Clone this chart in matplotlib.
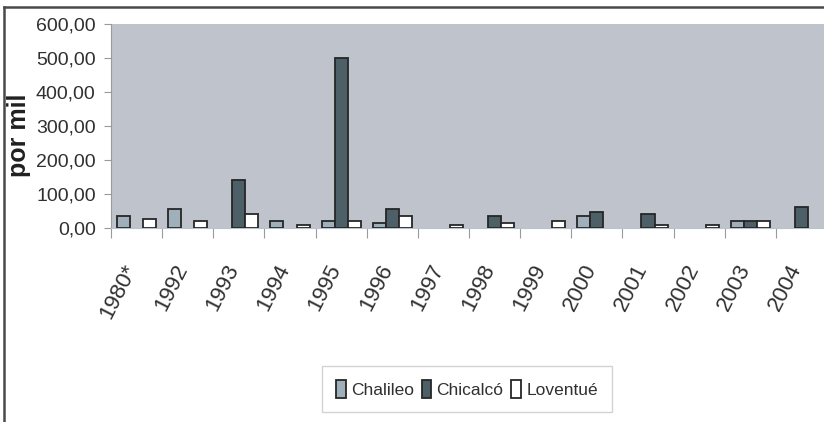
import matplotlib.pyplot as plt
import numpy as np
from matplotlib.lines import Line2D
from matplotlib.ticker import FuncFormatter, FixedLocator
from matplotlib.transforms import ScaledTranslation

years = ['1980*', '1992', '1993', '1994', '1995', '1996', '1997',
         '1998', '1999', '2000', '2001', '2002', '2003', '2004']
chalileo = [35, 55, 0, 21, 21, 16, 0, 0, 0, 35, 0, 0, 21, 0]
chicalco = [0, 0, 141, 0, 500, 55, 0, 35, 0, 47, 42, 0, 21, 61]
loventue = [27, 21, 42, 8, 21, 35, 8, 16, 21, 0, 9, 8, 21, 0]
series = ['Chalileo', 'Chicalcó', 'Loventué']
colors = ['#a0b0ba', '#4d5f67', '#ffffff']

font = ['Liberation Sans', 'DejaVu Sans']

fig = plt.figure(figsize=(8.24, 4.22), dpi=100)
# plot area runs a little past the right edge of the canvas
ax = fig.add_axes([111/824, 1 - 228/422, 716/824, 204/422])
ax.set_facecolor('#bfc3cb')

x = np.arange(len(years))
w = 0.255
for i, (vals, name, c) in enumerate(zip([chalileo, chicalco, loventue], series, colors)):
    # empty cells are left blank instead of drawing a flat outline
    h = np.array(vals, dtype=float)
    h[h == 0] = np.nan
    ax.bar(x + (i - 1)*w, h, width=w, color=c, edgecolor='#262626',
           linewidth=1.3, label=name, zorder=3)

ax.set_xlim(-0.5, len(years) - 0.5)
ax.set_ylim(0, 600)
ax.set_yticks(np.arange(0, 601, 100))
ax.yaxis.set_major_formatter(FuncFormatter(lambda v, p: f'{v:.2f}'.replace('.', ',')))

# category labels at the centres, tick marks on the boundaries
ax.xaxis.set_major_locator(FixedLocator(x))
ax.set_xticklabels(years)
ax.xaxis.set_minor_locator(FixedLocator(np.arange(-0.5, len(years), 1)))
ax.tick_params(axis='x', which='major', length=0, pad=27)
ax.tick_params(axis='x', which='minor', length=7, color='#9a9a9a', width=0.8)
ax.tick_params(axis='y', length=5, color='#9a9a9a', width=0.8, pad=6)

shift = ScaledTranslation(-5/100, 0, fig.dpi_scale_trans)
for lab in ax.get_xticklabels():
    lab.set_rotation(63)
    lab.set_rotation_mode('anchor')
    lab.set_ha('right')
    lab.set_va('center')
    lab.set_family(font)
    lab.set_fontsize(16)
    lab.set_color('#303030')
    lab.set_transform(lab.get_transform() + shift)
for lab in ax.get_yticklabels():
    lab.set_family(font)
    lab.set_fontsize(14)
    lab.set_color('#303030')

for s in ['top', 'right']:
    ax.spines[s].set_visible(False)
ax.spines['left'].set_color('#9a9a9a')
ax.spines['bottom'].set_color('#b8c4cc')

fig.text(19/824, 1 - 135/422, 'por mil', rotation=90, ha='center', va='center',
         family=font, fontweight='bold', fontsize=18, color='#202020')

leg = ax.legend(loc='center', bbox_to_anchor=(467/824, 1 - 389/422),
                bbox_transform=fig.transFigure, ncol=3, frameon=True,
                fancybox=False, handlelength=0.55, handleheight=1.25,
                handletextpad=0.3, columnspacing=0.45, borderpad=0.8,
                borderaxespad=0, prop={'family': font, 'size': 12.5})
leg.get_frame().set_edgecolor('#c8c8c8')
leg.get_frame().set_linewidth(1.0)
for t in leg.get_texts():
    t.set_color('#303030')

# outer frame, left and top edges
fig.add_artist(Line2D([4/824, 4/824], [0, 1 - 7/422], transform=fig.transFigure,
                      color='#4a4a4a', linewidth=1.8))
fig.add_artist(Line2D([4/824, 1], [1 - 7/422, 1 - 7/422], transform=fig.transFigure,
                      color='#4a4a4a', linewidth=1.8))

fig.savefig('out.png', dpi=100)
